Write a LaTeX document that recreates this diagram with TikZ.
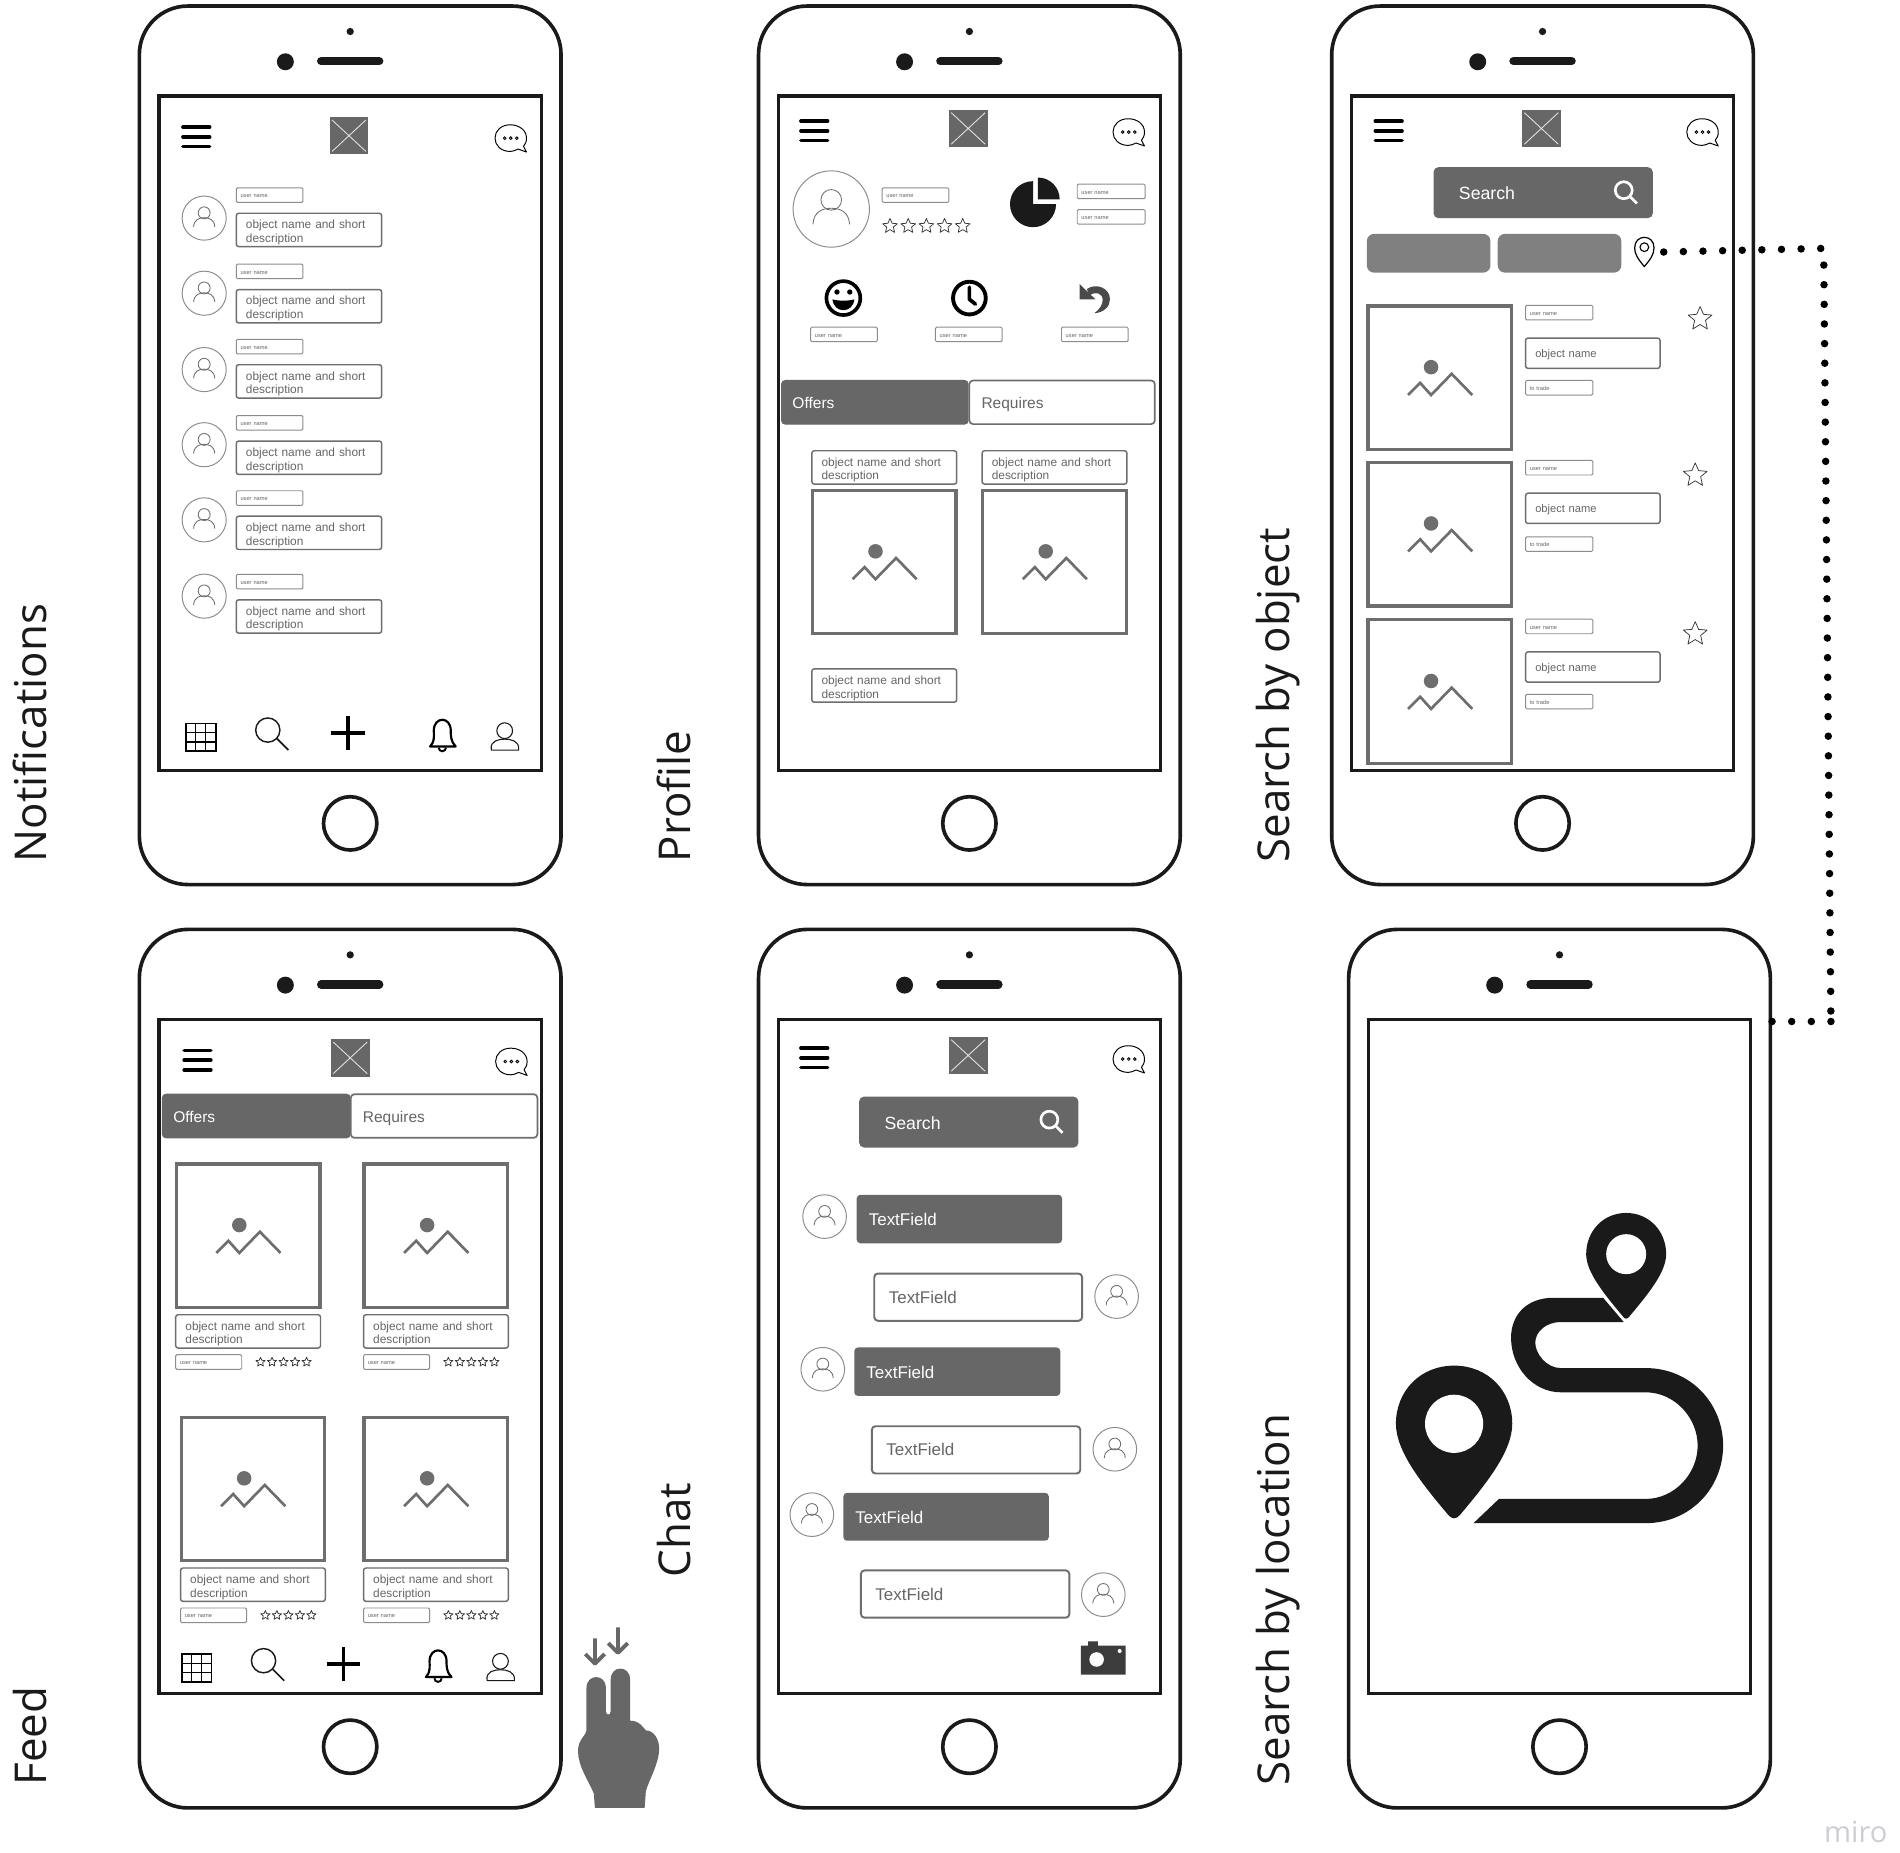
\documentclass[tikz,border=0pt]{standalone}
\usepackage{fontspec}
\setmainfont{Liberation Sans}
\newfontfamily\labfont{Open Sans}
\definecolor{ink}{HTML}{1A1A1A}
\definecolor{boxg}{HTML}{6E6E6E}
\definecolor{fillg}{HTML}{676767}
\definecolor{txtg}{HTML}{666666}
\definecolor{thing}{HTML}{8C8C8C}
\definecolor{btng}{HTML}{808080}
\definecolor{mirog}{HTML}{CDCDD6}
\definecolor{undog}{HTML}{4A4A4A}
\newcounter{nid}
\tikzset{
  body/.style={draw=ink,line width=1.5pt,fill=white,rounded corners=20pt,outer sep=0pt,inner sep=0pt},
  scrn/.style={draw=ink,line width=1.4pt,fill=white,outer sep=0pt,inner sep=0pt},
  tbase/.style={anchor=north west,outer sep=0pt,align=left,inner ysep=0pt},
  ob/.style={tbase,draw=boxg,line width=.6pt,fill=white,rounded corners=1pt,text=txtg,font=\fontsize{4.9}{5.7}\selectfont,execute at begin node={\rule{0pt}{5.6pt}\ignorespaces}},
  ub/.style={tbase,draw=thing,line width=.4pt,fill=white,rounded corners=.5pt,text=txtg,font=\fontsize{2.35}{3}\selectfont,execute at begin node={\rule{0pt}{2.25pt}\ignorespaces}},
  nb/.style={tbase,draw=boxg,line width=.6pt,fill=white,rounded corners=1pt,text=txtg,font=\fontsize{4.6}{5.5}\selectfont,execute at begin node={\rule{0pt}{4.4pt}\ignorespaces}},
  tabon/.style={tbase,fill=fillg,draw=fillg,line width=.4pt,rounded corners=1.5pt,text=white,font=\fontsize{6.4}{7}\selectfont,execute at begin node={\rule[-1.4pt]{0pt}{7.9pt}\ignorespaces}},
  taboff/.style={tbase,fill=white,draw=boxg,line width=.7pt,rounded corners=1.5pt,text=txtg,font=\fontsize{6.4}{7}\selectfont,execute at begin node={\rule[-1.4pt]{0pt}{7.9pt}\ignorespaces}},
  fldon/.style={tbase,fill=fillg,rounded corners=1.5pt,text=white,font=\fontsize{7}{8}\selectfont,execute at begin node={\rule{0pt}{5.6pt}\ignorespaces}},
  fldoff/.style={tbase,fill=white,draw=boxg,line width=.8pt,rounded corners=1.5pt,text=txtg,font=\fontsize{7}{8}\selectfont},
  srch/.style={tbase,fill=fillg,rounded corners=2pt,text=white,font=\fontsize{7.3}{8}\selectfont,execute at begin node={\rule{0pt}{5.8pt}\ignorespaces}},
  btn/.style={tbase,fill=btng,rounded corners=3pt},
  lab/.style={rotate=90,anchor=base west,inner sep=0pt,text=ink,font=\labfont\fontsize{18.1}{20}\selectfont},
  thinl/.style={draw=boxg,line width=.35pt},
  dots/.style={draw=black,line width=3.1pt,line cap=round,dash pattern=on 0pt off 8.1pt},
}
% text box: [pad]{style}{x}{y}{w}{h}{text}
\newcommand\tbx[7][8]{\stepcounter{nid}\node[#2,minimum width={#5*.5pt},minimum height={#6*.5pt},inner xsep={#1*.5pt},text width={(#5-2*#1)*.5pt}] (n\arabic{nid}) at (#3,#4) {#7};}
\newcommand\ubox[4][user name]{\tbx[3.5]{ub}{#2}{#3}{#4}{12}{#1}}
\newcommand\objd[3]{\tbx{ob}{#1}{#2}{#3}{27.5}{object name and short\\description}}
\newcommand\objn[2]{\tbx{nb}{#1}{#2}{111}{25}{object name}}
\newcommand\phone[3]{\begin{scope}[shift={(#2,#3)}]
  \node[body,minimum width={348*.5pt},minimum height={725*.5pt}] (#1) at (289,367.5) {};
  \node[scrn,minimum width={315.5*.5pt},minimum height={556.5*.5pt}] (#1s) at (289,357.5) {};
  \fill[ink] (289,26) circle[radius=3];
  \fill[ink] (235.5,51) circle[radius=7];
  \draw[ink,line width=3.4pt,line cap=round] (265,50.5) -- (313,50.5);
  \draw[ink,line width=1.5pt] (289,679.5) circle[radius=22];
\end{scope}}
\newcommand\burger[2]{\begin{scope}[shift={(#1,#2)}]
  \draw[black,line width=1.5pt,line cap=round] (-11,-8)--(11,-8) (-11,0)--(11,0) (-11,8)--(11,8);
\end{scope}}
\newcommand\logo[2]{\begin{scope}[shift={(#1,#2)}]
  \fill[fillg] (-16,-15.5) rectangle (16,15.5);
  \draw[white!80!gray,line width=.35pt] (-14,-13)--(14,13) (14,-13)--(-14,13);
\end{scope}}
\newcommand\chatb[2]{\begin{scope}[shift={(#1,#2)}]
  \draw[black,line width=.4pt,line join=round,fill=white] (-.5,-11) .. controls (7,-11) and (13,-6.5) .. (13,0) .. controls (13,3) and (12,5) .. (10.5,6.8) -- (13,11.5) -- (6,9) .. controls (3,10.5) and (1,11) .. (-.5,11) .. controls (-8,11) and (-13,6) .. (-13,0) .. controls (-13,-6) and (-8,-11) .. (-.5,-11) -- cycle;
  \draw[black,line width=.35pt] (-5,0) circle[radius=1.1] (0,0) circle[radius=1.1] (5,0) circle[radius=1.1];
\end{scope}}
\newcommand\avatar[3]{\begin{scope}[shift={(#1,#2)},scale=#3]
  \draw[draw=thing,line width=.4pt,fill=white] (0,0) circle[radius=1];
  \draw[thinl] (0,-.24) circle[radius=.27];
  \draw[thinl] (-.48,.4) .. controls (-.46,.05) and (-.2,-.02) .. (0,-.02) .. controls (.2,-.02) and (.46,.05) .. (.48,.4);
\end{scope}}
\newcommand\ostar[3]{\draw[black!80,line width=.3pt,line join=round,shift={(#1,#2)},scale=#3] (0,-1)--(.28,-.36)--(.98,-.3)--(.45,.14)--(.6,.85)--(0,.48)--(-.6,.85)--(-.45,.14)--(-.98,-.3)--(-.28,-.36)--cycle;}
\newcommand\stars[4]{\foreach \k in {0,...,4} {\ostar{#1+\k*#4}{#2}{#3}}}
\newcommand\img[2]{\begin{scope}[shift={(#1,#2)}]
  \draw[boxg,line width=1.35pt,fill=white] (.5,.5) rectangle (119,119);
  \fill[boxg] (52.5,51) circle[radius=6];
  \draw[boxg,line width=1.1pt] (33.5,74)--(43.5,64)--(52.5,74)--(69.5,56.5)--(86.5,74);
\end{scope}}
\newcommand\lens[6]{\draw[#5,line width=#6] (#1,#2) circle[radius=#3] ({#1+#3*.7},{#2+#3*.7}) -- ({#1+#3*.7+#4},{#2+#3*.7+#4});}
\newcommand\searchbar[2]{\tbx[21]{srch}{#1}{#2}{181}{42}{Search}\lens{#1+157}{#2+19}{7}{6}{white}{1.1pt}}
\newcommand\bottomicons[2]{\begin{scope}[shift={(#1,#2)}]
  \draw[black,line width=.7pt] (153.5,597) rectangle (178,620);
  \draw[black,line width=.5pt] (161.6,597)--(161.6,620) (169.8,597)--(169.8,620) (153.5,604.7)--(178,604.7) (153.5,612.3)--(178,612.3);
  \draw[ink,line width=.6pt] (221,602.5) circle[radius=10];
  \draw[ink,line width=.7pt] (228.5,609.5)--(238,619);
  \draw[black,line width=1.5pt] (273,605)--(301,605) (287,591)--(287,619);
  \draw[black,line width=.9pt,line join=round] (355,616) .. controls (359,612) and (358,607) .. (358,603) .. controls (358,591) and (372,591) .. (372,603) .. controls (372,607) and (372,612) .. (376,616) -- cycle;
  \draw[black,line width=.8pt] (362,617) arc[start angle=180,end angle=0,radius=3] ;
  \draw[ink,line width=.45pt] (416.5,603) circle[radius=6.5];
  \draw[ink,line width=.45pt] (405.5,619) .. controls (404,611) and (412,610) .. (416.5,610) .. controls (421,610) and (429,611) .. (428,619) -- cycle;
\end{scope}}
\begin{document}
\begin{tikzpicture}[x=.5pt,y=-.5pt]
\useasboundingbox (0,0) rectangle (1568,1529.2);
\fill[white] (0,0) rectangle (1568,1529.2);
% rotated labels
\node[lab] (lnotif) at (38,712) {Notifications};
\node[lab] (lprof) at (570,712) {Profile};
\node[lab] (lobj) at (1064.5,712) {Search by object};
\node[lab] (lfeed) at (38,1474) {Feed};
\node[lab] (lchat) at (570,1302) {Chat};
\node[lab] (lloc) at (1064.5,1474) {Search by location};
% phones
\phone{pa}{0}{0}
\phone{pb}{511}{0}
\phone{pc}{984}{0}
\phone{pd}{0}{762}
\phone{pe}{511}{762}
\phone{pf}{998}{762}
% ---- Notifications
\burger{162}{113}\logo{288}{112}\chatb{421.5}{114}
\foreach \ay/\uy in {180/155,242/218,305/280,367/343,429/405,492/474} {\avatar{168.5}{\ay}{18.2}\ubox{195}{\uy}{55}}
\foreach \oy in {176,239,301,364,426,495} {\objd{195}{\oy}{120}}
\bottomicons{0}{0}
% ---- Profile
\burger{672}{108}\logo{799}{106}\chatb{931.5}{109}
\avatar{686}{172.5}{31.5}
\ubox{728}{155}{55}
\stars{734.5}{186.5}{6.2}{15}
\fill[ink] (852.5,168.5) -- (852.5,149.5) arc[start angle=-90,end angle=-360,radius=19] -- cycle;
\fill[ink] (856.5,164.5) -- (856.5,146.5) arc[start angle=-90,end angle=0,radius=18] -- cycle;
\ubox{889}{152}{56}\ubox{889}{173}{56}
% smiley
\draw[black,line width=1.5pt] (696,246) circle[radius=14];
\fill[black] (690.7,241) circle[radius=2.2] (701.3,241) circle[radius=2.2];
\fill[black] (687,247) .. controls (691,248.5) and (701,248.5) .. (705,247) .. controls (704,259) and (688,259) .. (687,247) -- cycle;
% clock
\draw[black,line width=1.6pt] (800,246) circle[radius=13.5];
\draw[black,line width=1.5pt,line cap=round,line join=round] (800,237)--(800,247)--(805,251);
% undo
\fill[undog] (891,234.5)--(891,247)--(904,247)--cycle;
\fill[undog] (897,238.5) .. controls (905,233) and (916,238) .. (916,247) .. controls (916,253) and (911,258) .. (903,258.5) .. controls (908,255) and (910,251) .. (910,247.5) .. controls (910,242) and (904,240) .. (899,244) -- cycle;
\ubox{669}{270}{55}\ubox{772}{270}{55}\ubox{876}{270}{55}
\tbx[9]{tabon}{645}{314}{154}{36}{Offers}
\tbx[10]{taboff}{800}{314}{153}{36}{Requires}
\objd{670}{372}{119.5}\objd{810.5}{372}{119.5}
\img{670}{404}\img{810.5}{404}
\objd{670}{552}{119.5}
% ---- Search by object
\burger{1146}{108}\logo{1272}{106}\chatb{1405}{109}
\searchbar{1183}{138}
\tbx{btn}{1128}{193}{102}{32}{}
\tbx{btn}{1236}{193}{102}{32}{}
\draw[black,line width=.5pt,line join=round,fill=white] (1357,220) .. controls (1352,214) and (1349,210) .. (1349,204.5) .. controls (1349,193) and (1365,193) .. (1365,204.5) .. controls (1365,210) and (1362,214) .. (1357,220) -- cycle;
\draw[black,line width=.45pt] (1357,204) circle[radius=3.6];
\coordinate (pinout) at (1373,208);
\foreach \iy/\sx/\sy/\ua/\ob/\tr in {252/1403/263/252/279/314,381/1399/392/380/407/443,511/1399/523/511/538/573} {
  \img{1128.5}{\iy}
  \ubox{1259}{\ua}{55.5}
  \objn{1259}{\ob}
  \ubox[to trade]{1259}{\tr}{55.5}
  \ostar{\sx}{\sy}{10}
}
% ---- Feed
\burger{163}{875}\logo{289}{873}\chatb{422}{876}
\tbx[9]{tabon}{134}{903}{155}{36}{Offers}
\tbx[10]{taboff}{289.5}{903}{154}{36}{Requires}
\foreach \ix/\iy in {145/960,300/960,149/1169,300/1169} {
  \img{\ix}{\iy}
  \pgfmathsetmacro\by{\iy+125}
  \objd{\ix}{\by}{119.5}
  \pgfmathsetmacro\uy{\iy+158}
  \ubox{\ix}{\uy}{54.5}
  \pgfmathsetmacro\sx{\ix+70}
  \pgfmathsetmacro\sy{\iy+164}
  \stars{\sx}{\sy}{3.9}{9.5}
}
\bottomicons{-3.5}{768}
% hand
\draw[fillg,line width=1.6pt,line join=round] (483,1365)--(491,1373)--(499,1365) (491,1373)--(491,1352) (502,1356)--(510,1364)--(518,1356) (510,1364)--(510,1343);
\fill[fillg] (484,1393) .. controls (484,1381) and (500,1381) .. (500,1393) -- (500,1412) .. controls (500,1416) and (504,1416) .. (504,1412) -- (504,1386) .. controls (504,1374) and (520,1374) .. (520,1386) -- (520,1420) .. controls (528,1420) and (531,1426) .. (533,1428) .. controls (540,1428) and (544,1436) .. (544,1443) .. controls (544,1455) and (536,1468) .. (533,1478) -- (532,1492) -- (491,1492) -- (490,1480) .. controls (486,1470) and (477,1458) .. (477,1445) .. controls (477,1435) and (484,1432) .. (484,1428) -- cycle;
% ---- Chat
\burger{672}{873}\logo{799}{871}\chatb{931.5}{874}
\searchbar{709}{905}
\tbx[10]{fldon}{707}{986}{169.5}{40}{TextField}\avatar{680.5}{1004}{18}
\tbx[12]{fldoff}{721.5}{1051}{171.5}{39}{TextField}\avatar{921.5}{1070}{18}
\tbx[10]{fldon}{705}{1112}{170}{40}{TextField}\avatar{679}{1130}{18}
\tbx[12]{fldoff}{719.5}{1177}{172}{39}{TextField}\avatar{920}{1196}{18}
\tbx[10]{fldon}{696}{1232}{169.5}{39.5}{TextField}\avatar{670}{1250}{18}
\tbx[12]{fldoff}{710.5}{1296}{172}{39}{TextField}\avatar{910.5}{1316}{18}
\fill[ink!85!white] (892,1358) -- (898,1358) -- (898,1354.5) -- (906,1354.5) -- (906,1358) -- (929,1358) -- (929,1382) -- (892,1382) -- cycle;
\fill[white] (905,1369.5) circle[radius=6] (924,1362.5) circle[radius=1.7];
% ---- Search by location
\fill[ink] (1200,1127) .. controls (1228,1127) and (1248,1148) .. (1248,1175) .. controls (1248,1198) and (1226,1225) .. (1205,1250) .. controls (1202,1254) and (1198,1254) .. (1195,1250) .. controls (1174,1225) and (1152,1198) .. (1152,1175) .. controls (1152,1148) and (1172,1127) .. (1200,1127) -- cycle;
\fill[white] (1200,1175) circle[radius=24];
\fill[ink] (1342,1001) .. controls (1361,1001) and (1375,1016) .. (1375,1035) .. controls (1375,1050) and (1360,1068) .. (1345,1086) .. controls (1343,1089) and (1341,1089) .. (1339,1086) .. controls (1324,1068) and (1309,1050) .. (1309,1035) .. controls (1309,1016) and (1323,1001) .. (1342,1001) -- cycle;
\fill[white] (1342,1035) circle[radius=16.5];
\fill[ink] (1323,1071) -- (1282,1071) .. controls (1260,1071) and (1247,1085) .. (1247,1104) .. controls (1247,1128) and (1265,1149) .. (1288,1149) -- (1358,1149) .. controls (1382,1149) and (1401,1170) .. (1401,1193) .. controls (1401,1216) and (1382,1237) .. (1358,1237) -- (1237,1237) -- (1216,1257) -- (1358,1257) .. controls (1395,1257) and (1422,1228) .. (1422,1193) .. controls (1422,1158) and (1395,1129) .. (1358,1129) -- (1288,1129) .. controls (1276,1129) and (1267,1117) .. (1267,1108) .. controls (1267,1099) and (1276,1091) .. (1288,1091) -- (1340,1091) -- cycle;
% connector
\coordinate (bendA) at (1505,205);
\coordinate (bendB) at (1511,843);
\draw[dots] (pinout) -- (bendA) -- (bendB);
\draw[dots] (bendB) -- (bendB -| pf.east);
% watermark
\node[anchor=base east,inner sep=0pt,text=mirog,font=\labfont\fontsize{12}{13}\selectfont] (miro) at (1558,1520.5) {miro};
\end{tikzpicture}
\end{document}
